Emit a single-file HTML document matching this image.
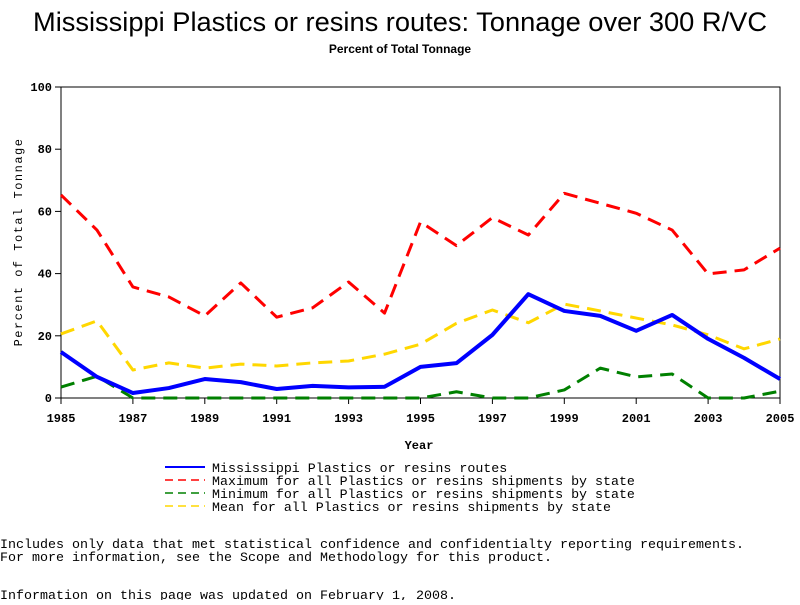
<!DOCTYPE html>
<html><head><meta charset="utf-8"><style>
body{margin:0;background:#fff;width:800px;height:600px;overflow:hidden;font-family:"Liberation Sans",sans-serif}
</style></head><body>
<svg id="chart" width="800" height="600" xmlns="http://www.w3.org/2000/svg">
<text x="400" y="31" text-anchor="middle" font-size="27" font-family="Liberation Sans, sans-serif" textLength="734" lengthAdjust="spacingAndGlyphs">Mississippi Plastics or resins routes: Tonnage over 300 R/VC</text>
<text x="400" y="53" text-anchor="middle" font-size="12" font-weight="bold" font-family="Liberation Sans, sans-serif">Percent of Total Tonnage</text>
<g id="plot"></g>
<text x="419" y="449" text-anchor="middle" font-size="12" font-weight="bold" font-family="Liberation Mono, monospace">Year</text>
<text transform="translate(22,242) rotate(-90)" text-anchor="middle" font-size="12" font-family="Liberation Mono, monospace" letter-spacing="1.5">Percent of Total Tonnage</text>
<g font-family="Liberation Mono, monospace" font-size="13.3">
<g><line x1="165" y1="467" x2="205" y2="467" stroke="#0000ff" stroke-width="2"/><text x="212" y="472">Mississippi Plastics or resins routes</text></g>
<g><line x1="165" y1="480" x2="205" y2="480" stroke="#ff0000" stroke-width="1.5" stroke-dasharray="8,5"/><text x="212" y="485">Maximum for all Plastics or resins shipments by state</text></g>
<g><line x1="165" y1="493" x2="205" y2="493" stroke="#008000" stroke-width="1.5" stroke-dasharray="8,5"/><text x="212" y="498">Minimum for all Plastics or resins shipments by state</text></g>
<g><line x1="165" y1="506" x2="205" y2="506" stroke="#ffd700" stroke-width="1.5" stroke-dasharray="8,5"/><text x="212" y="511">Mean for all Plastics or resins shipments by state</text></g>
</g>
<g font-family="Liberation Mono, monospace" font-size="13.3">
<text x="0" y="548" textLength="744" lengthAdjust="spacingAndGlyphs">Includes only data that met statistical confidence and confidentialty reporting requirements.</text>
<text x="0" y="561" textLength="552" lengthAdjust="spacingAndGlyphs">For more information, see the Scope and Methodology for this product.</text>
<text x="0" y="599" textLength="456" lengthAdjust="spacingAndGlyphs">Information on this page was updated on February 1, 2008.</text>
</g>
</svg>
<script>
const years=[1985,1986,1987,1988,1989,1990,1991,1992,1993,1994,1995,1996,1997,1998,1999,2000,2001,2002,2003,2004,2005];
const mississippi=[14.8,6.8,1.6,3.2,6.1,5.1,2.9,3.9,3.4,3.6,10,11.2,20.3,33.4,28,26.4,21.6,26.7,19,12.9,6.1];
const maximum=[65.3,54,35.7,32.5,26.4,37,26,29,37.3,27.3,56.6,49,58,52.4,65.8,62.6,59.4,54,39.9,41.2,48.2];
const minimum=[3.5,7,0,0,0,0,0,0,0,0,0,2,0,0,2.6,9.6,6.8,7.7,0,0,2.2];
const mean=[20.6,24.8,9,11.3,9.6,10.9,10.3,11.3,11.9,14.1,17.3,24,28.3,24.2,30.2,28,25.7,23.5,20.3,15.8,19];
const yTicks=[0,20,40,60,80,100];
const xTicks=[1985,1987,1989,1991,1993,1995,1997,1999,2001,2003,2005];
const NS="http://www.w3.org/2000/svg";
const X0=61,X1=780,Y0=398,Y1=87;
function xs(v){return X0+(v-1985)/(2005-1985)*(X1-X0);}
function ys(v){return Y0-v/100*(Y0-Y1);}
const plot=document.getElementById('plot');
function mk(t,a){const e=document.createElementNS(NS,t);for(const k in a)e.setAttribute(k,a[k]);plot.appendChild(e);return e;}
let fr=mk('rect',{x:X0,y:Y1,width:X1-X0,height:Y0-Y1,fill:'none',stroke:'#000','stroke-width':1});


yTicks.forEach(v=>{
  let l=mk('line',{x1:X0-6,x2:X0,y1:ys(v),y2:ys(v),stroke:'#000'});
  
  
  let t=mk('text',{x:X0-9,y:ys(v)+4,'text-anchor':'end','font-size':12,'font-weight':'bold','font-family':'Liberation Mono, monospace'});
  t.textContent=v;
  
  
});
xTicks.forEach(v=>{
  let l=mk('line',{x1:xs(v),x2:xs(v),y1:Y0,y2:Y0+6,stroke:'#000'});
  
  
  let t=mk('text',{x:xs(v),y:Y0+24,'text-anchor':'middle','font-size':12,'font-weight':'bold','font-family':'Liberation Mono, monospace'});
  t.textContent=v;
  
  
});
function series(vals,color,w,dash,name){
  const pts=vals.map((v,i)=>xs(years[i])+','+ys(v)).join(' ');
  const a={points:pts,fill:'none',stroke:color,'stroke-width':w,'stroke-linejoin':'round'};
  if(dash)a['stroke-dasharray']=dash;
  const p=mk('polyline',a);
  
  
}
series(minimum,'#008000',3,'14,8','series-minimum');
series(mean,'#ffd700',3,'14,8','series-mean');
series(maximum,'#ff0000',3,'14,8','series-maximum');
series(mississippi,'#0000ff',4,null,'series-mississippi');
</script>
</body></html>
